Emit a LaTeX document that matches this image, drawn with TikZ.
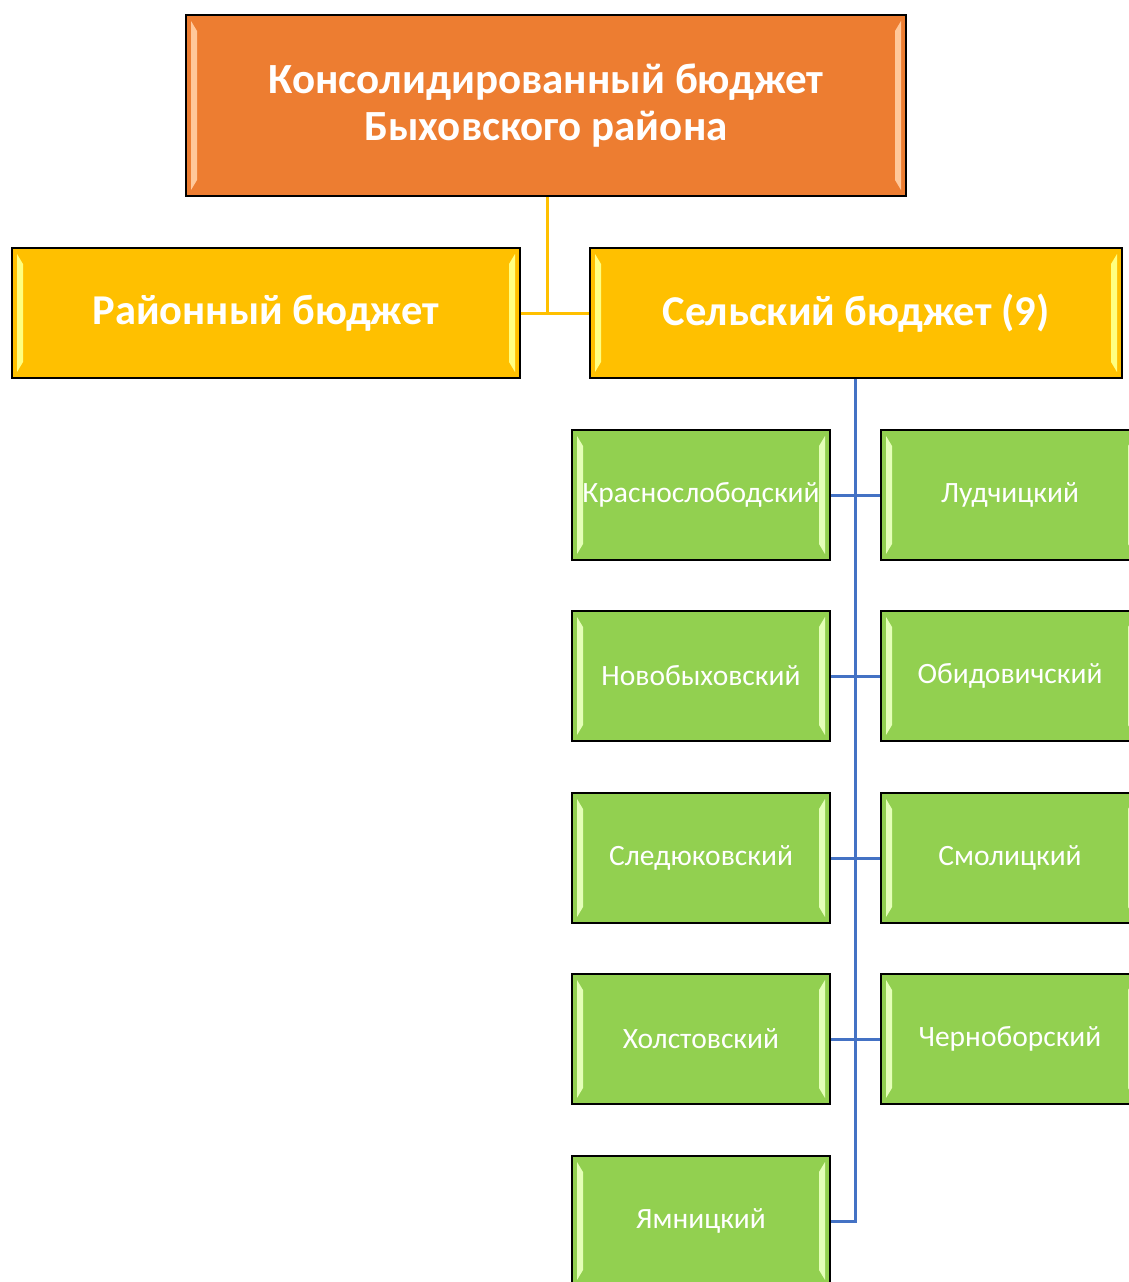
\documentclass[tikz,border=0pt]{standalone}
\usepackage{fontspec}
\setmainfont{Carlito}
\usetikzlibrary{calc}
\definecolor{orangeF}{HTML}{ED7D31}
\definecolor{orangeL}{HTML}{FFC89A}
\definecolor{yellowF}{HTML}{FFC000}
\definecolor{yellowL}{HTML}{FFFF80}
\definecolor{greenF}{HTML}{92D050}
\definecolor{greenL}{HTML}{E4FFB8}
\definecolor{blueL}{HTML}{4472C4}
\tikzset{
  x=1pt, y=-1pt,
  bevel/.style={path picture={
    \coordinate (pNW) at (path picture bounding box.north west);
    \coordinate (pSW) at (path picture bounding box.south west);
    \coordinate (pNE) at (path picture bounding box.north east);
    \coordinate (pSE) at (path picture bounding box.south east);
    \fill[#1] ($(pNW)+(5,6)$) -- ($(pNW)+(11,16)$) -- ($(pSW)+(11,-16)$) -- ($(pSW)+(5,-6)$) -- cycle;
    \fill[#1] ($(pNE)+(-5,6)$) -- ($(pNE)+(-11,16)$) -- ($(pSE)+(-11,-16)$) -- ($(pSE)+(-5,-6)$) -- cycle;
  }},
  boxbase/.style={draw=black, line width=1.6pt, rectangle, inner sep=0pt, text=white, align=center},
  topbox/.style={boxbase, fill=orangeF, bevel=orangeL, minimum width=720pt, minimum height=181pt, font=\fontsize{43}{47}\selectfont\bfseries},
  midbox/.style={boxbase, fill=yellowF, bevel=yellowL, minimum height=130pt, font=\fontsize{42.5}{44}\selectfont\bfseries},
  leafbox/.style={boxbase, fill=greenF, bevel=greenL, minimum width=258pt, minimum height=130pt, font=\fontsize{29.5}{32}\selectfont},
  yconn/.style={draw=yellowF, line width=3pt},
  bconn/.style={draw=blueL, line width=3pt},
}
\begin{document}
\begin{tikzpicture}
\useasboundingbox (0,0) rectangle (1129,1282);
\begin{scope}
\clip (0,0) rectangle (1129,1282);
\coordinate (j) at (547,314);
\coordinate (bend) at (855,1221);
\node[topbox] (top) at (546,105.5) {Консолидированный бюджет\\Быховского района};
\node[midbox, minimum width=508pt] (rai) at (266,313) {Районный бюджет};
\node[midbox, minimum width=532pt] (sel) at (856,313) {Сельский бюджет (9)};
\draw[yconn] (top.south -| j) -- (j);
\draw[yconn] (rai.east) -- (sel.west);
\node[leafbox] (k1) at (701,495) {Краснослободский};
\node[leafbox] (k2) at (1010,495) {Лудчицкий};
\node[leafbox] (k3) at (701,676) {Новобыховский};
\node[leafbox] (k4) at (1010,676) {Обидовичский};
\node[leafbox] (k5) at (701,858) {Следюковский};
\node[leafbox] (k6) at (1010,858) {Смолицкий};
\node[leafbox] (k7) at (701,1039) {Холстовский};
\node[leafbox] (k8) at (1010,1039) {Черноборский};
\node[leafbox] (k9) at (701,1221) {Ямницкий};
\draw[bconn] (sel.south -| bend) -- (bend) -- (k9.east);
\draw[bconn] (k1.east) -- (k2.west);
\draw[bconn] (k3.east) -- (k4.west);
\draw[bconn] (k5.east) -- (k6.west);
\draw[bconn] (k7.east) -- (k8.west);
\end{scope}
\end{tikzpicture}
\end{document}
